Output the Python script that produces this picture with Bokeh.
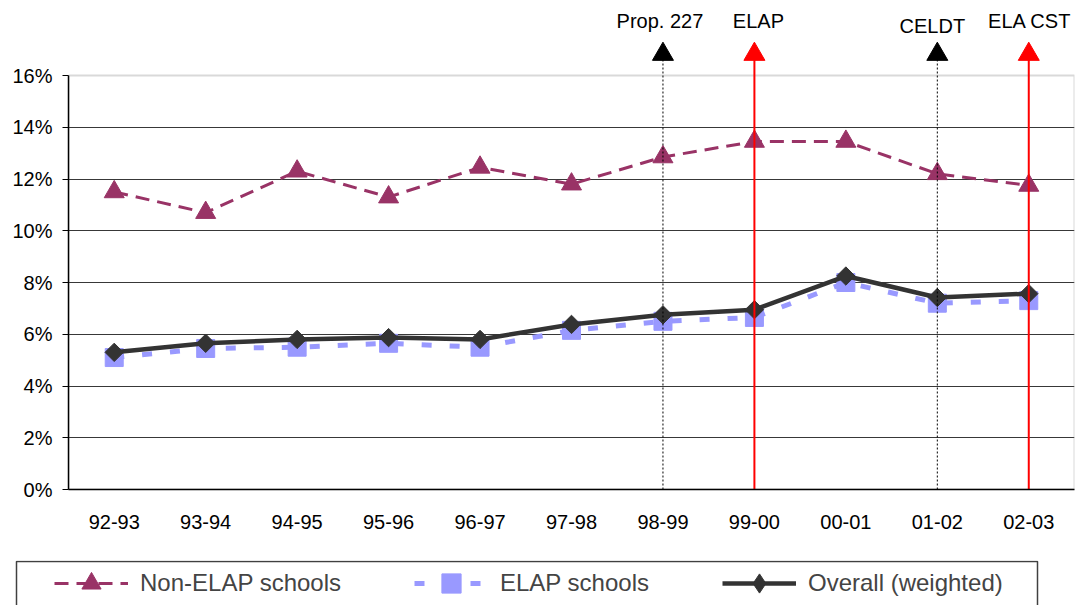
from bokeh.plotting import figure
from bokeh.models import (FactorRange, Range1d, FixedTicker, Legend, LegendItem,
                          BoxAnnotation, PrintfTickFormatter)
from bokeh.core.properties import value
from bokeh.embed import file_html
from bokeh.resources import INLINE

# ---- data ----
years = ["92-93", "93-94", "94-95", "95-96", "96-97", "97-98",
         "98-99", "99-00", "00-01", "01-02", "02-03"]
non_elap = [11.5, 10.7, 12.3, 11.3, 12.45, 11.8, 12.85, 13.45, 13.45, 12.2, 11.75]
elap = [5.1, 5.45, 5.5, 5.65, 5.5, 6.15, 6.5, 6.65, 8.0, 7.2, 7.3]
overall = [5.3, 5.65, 5.8, 5.87, 5.8, 6.38, 6.75, 6.95, 8.25, 7.42, 7.57]
y_ticks = [0, 2, 4, 6, 8, 10, 12, 14, 16]

events = ["Prop. 227", "ELAP", "CELDT", "ELA CST"]
event_years = ["98-99", "99-00", "01-02", "02-03"]

series_names = ["Non-ELAP schools", "ELAP schools", "Overall (weighted)"]

# ---- styling ----
FONT = "Liberation Sans"
W = 1080
event_colors = ["black", "#FF0000", "black", "#FF0000"]
event_label_y = [18.09, 18.09, 17.93, 18.09]

p = figure(width=W, height=560, output_backend="svg", toolbar_location=None,
           x_range=FactorRange(factors=years, range_padding=0),
           y_range=Range1d(0, 489 / 25.875),
           min_border_left=68, min_border_right=6, min_border_top=0,
           min_border_bottom=71)
p.outline_line_color = None

# plot area border (0..16)
p.add_layout(BoxAnnotation(bottom=0, top=16, fill_color=None, line_color="#808080",
                           line_width=2, level="underlay"))

# axes
yax = p.yaxis[0]
yax.ticker = FixedTicker(ticks=y_ticks)
yax.formatter = PrintfTickFormatter(format="%d%%")
yax.bounds = (0, 16)
yax.axis_line_color = "black"
yax.axis_line_width = 1.5
yax.major_tick_in = 0
yax.major_tick_out = 6
yax.minor_tick_line_color = None
yax.major_label_standoff = 10
yax.major_label_text_font = FONT
yax.major_label_text_font_size = "20px"
yax.major_label_text_color = "black"

xax = p.xaxis[0]
xax.axis_line_color = "black"
xax.axis_line_width = 1.5
xax.major_tick_line_color = None
xax.minor_tick_line_color = None
xax.major_label_standoff = 19
xax.major_label_text_font = FONT
xax.major_label_text_font_size = "20px"
xax.major_label_text_color = "black"

p.xgrid.visible = False
p.ygrid.ticker = FixedTicker(ticks=y_ticks[1:-1])
p.ygrid.grid_line_color = "#383838"
p.ygrid.grid_line_width = 1

# series styles
styles = [
    dict(line_color="#993366", line_width=3, line_dash="14 8"),
    dict(line_color="#9999FF", line_width=5, line_dash="10 18"),
    dict(line_color="#333333", line_width=4.5),
]
markers = [
    dict(marker="triangle", size=20, color="#993366"),
    dict(marker="square", size=18, color="#9999FF"),
    dict(marker="square", size=13, angle=0.785398, color="#333333"),
]
legend_markers = [
    dict(marker="triangle", color="#993366"),
    dict(marker="square", color="#9999FF"),
    dict(marker="diamond", color="#333333"),
]

for vals, ls, ms in zip([non_elap, elap, overall], styles, markers):
    p.line(years, vals, **ls)
    p.scatter(years, vals, **ms)

# event lines and arrows
for yr, c in zip(event_years, event_colors):
    dash = "2 2" if c == "black" else "solid"
    lw = 1 if c == "black" else 2
    p.segment(x0=[yr], y0=[0], x1=[yr], y1=[16.6], line_color=c, line_width=lw,
              line_dash=dash)
p.scatter(x=event_years, y=[16.82] * 4, marker="triangle", size=21,
          color=event_colors)
p.text(x=event_years, y=event_label_y, text=events, text_font=value(FONT),
       text_font_size="20px", text_align="center", text_baseline="middle",
       text_color="black", x_offset=[-3, 4, -5, 1])

# ---- legend strip (separate canvas so it is not clipped) ----
lg = figure(width=W, height=45, output_backend="svg", toolbar_location=None,
            x_range=Range1d(0, W), y_range=Range1d(45, 0),
            x_axis_location=None, y_axis_location=None,
            min_border=0, min_border_left=0, min_border_right=0,
            min_border_top=0, min_border_bottom=0)
lg.outline_line_color = None
lg.xgrid.visible = False
lg.ygrid.visible = False
lg.quad(left=[16], right=[1037], top=[1], bottom=[200], fill_color=None,
        line_color="#404040", line_width=1.5)

items = []
for name, ls, ms in zip(series_names, styles, legend_markers):
    r1 = lg.line([-500, -400], [-500, -500], **ls)
    r2 = lg.scatter([-450], [-500], **ms)
    items.append(LegendItem(label=name, renderers=[r1, r2]))

legend = Legend(items=items, orientation="horizontal", location=(54, -2),
                label_text_font=FONT, label_text_font_size="24px",
                glyph_width=74, glyph_height=48, label_standoff=12, spacing=73,
                padding=10, border_line_color=None, background_fill_alpha=0)
lg.add_layout(legend, "center")

open("out.html", "w").write(file_html([p, lg], INLINE))
